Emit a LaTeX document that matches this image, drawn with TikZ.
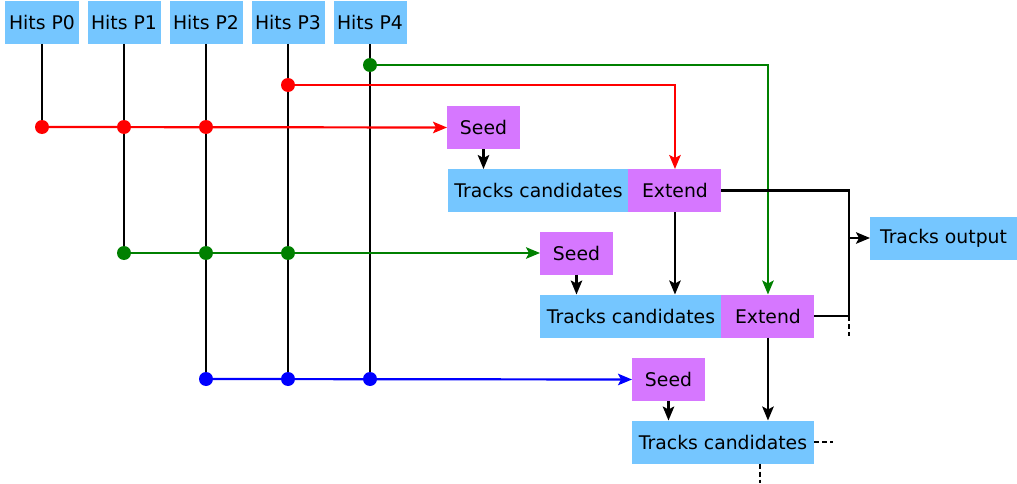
\documentclass[tikz,border=0pt]{standalone}
\usepackage{fontspec}
\setmainfont{DejaVu Sans}
\usepackage{tikz}
\usetikzlibrary{arrows.meta,positioning}
\definecolor{trkblue}{HTML}{75C6FF}
\definecolor{trkviolet}{HTML}{D677FF}
\definecolor{trkred}{HTML}{FF0000}
\definecolor{trkgreen}{HTML}{008000}
\definecolor{trkdeep}{HTML}{0000FF}
\tikzset{
  data/.style={fill=trkblue, minimum height=0.86cm, inner sep=0pt, outer sep=0pt,
    font=\fontsize{10.7pt}{12pt}\selectfont},
  algo/.style={fill=trkviolet, minimum height=0.86cm, inner sep=0pt, outer sep=0pt,
    font=\fontsize{10.7pt}{12pt}\selectfont},
  wire/.style={line width=1.25pt, draw=black},
  flow/.style={-{Stealth[length=2.8mm, width=2.3mm, inset=0.6mm]}, line width=1.25pt},
  cont/.style={line width=1.25pt, dash pattern=on 1mm off 0.6mm},
}

\begin{document}
\begin{tikzpicture}
\useasboundingbox (0,0) rectangle (20.34,9.66);
% ---------- hit layers ----------
\foreach \i in {0,...,4}{
  \node[data, minimum width=1.46cm] (h\i) at ({0.84+1.64*\i},9.21) {Hits P\i};
}

% ---------- seed / extend blocks ----------
\node[algo, minimum width=1.46cm] (seed1) at (9.67,7.11) {Seed};
\node[data, minimum width=3.62cm] (cand1) at (10.77,5.85) {Tracks candidates};
\node[algo, minimum width=1.86cm, right=-0.3pt of cand1] (ext1) {Extend};
\node[algo, minimum width=1.46cm] (seed2) at (11.53,4.60) {Seed};
\node[data, minimum width=3.64cm] (cand2) at (12.62,3.34) {Tracks candidates};
\node[algo, minimum width=1.86cm, right=-0.3pt of cand2] (ext2) {Extend};
\node[algo, minimum width=1.46cm] (seed3) at (13.37,2.07) {Seed};
\node[data, minimum width=3.64cm] (cand3) at (14.46,0.82) {Tracks candidates};
\node[data, minimum width=2.94cm] (out) at (18.87,4.90) {Tracks output};

% ---------- hit junctions ----------
\foreach \c/\x/\y in {r0/0.84/7.12, r1/2.48/7.12, r2/4.12/7.12, r3/5.76/7.96,
                      g1/2.48/4.60, g2/4.12/4.60, g3/5.76/4.60, g4/7.40/8.36,
                      b2/4.12/2.08, b3/5.76/2.08, b4/7.40/2.08}{
  \coordinate (\c) at (\x,\y);
}
\coordinate (bus) at (16.98,4.90);
\coordinate (tail) at (15.20,0);

% vertical hit lines
\draw[wire] (h0.south) -- (r0);
\draw[wire] (h1.south) -- (g1);
\draw[wire] (h2.south) -- (b2);
\draw[wire] (h3.south) -- (b3);
\draw[wire] (h4.south) -- (b4);

% seeding combinations
\draw[flow, trkred] (r0) -- (seed1.west);
\draw[flow, trkred] (r3) -| (ext1.north);
\draw[flow, trkgreen] (g1) -- (seed2.west);
\draw[flow, trkgreen] (g4) -| (ext2.north);
\draw[flow, trkdeep] (b2) -- (seed3.west);

% candidates
\draw[flow] (seed1.south) -- (seed1.south |- cand1.north);
\draw[flow] (seed2.south) -- (seed2.south |- cand2.north);
\draw[flow] (seed3.south) -- (seed3.south |- cand3.north);
\draw[flow] (ext1.south) -- (ext1.south |- cand2.north);
\draw[flow] (ext2.south) -- (ext2.south |- cand3.north);

% ---------- output ----------
\draw[wire] (ext1.east) -| (bus |- ext2.east) -- (ext2.east);
\draw[cont] (bus |- ext2.east) -- ++(0,-0.4);
\draw[flow] (bus) -- (out.west);
\draw[cont] (cand3.east) -- ++(0.38,0);
\draw[cont] (tail |- cand3.south) -- (tail);

% dots on top
\foreach \c in {r0,r1,r2,r3}{ \fill[trkred] (\c) circle (0.14); }
\foreach \c in {g1,g2,g3,g4}{ \fill[trkgreen] (\c) circle (0.14); }
\foreach \c in {b2,b3,b4}{ \fill[trkdeep] (\c) circle (0.14); }
\end{tikzpicture}
\end{document}
